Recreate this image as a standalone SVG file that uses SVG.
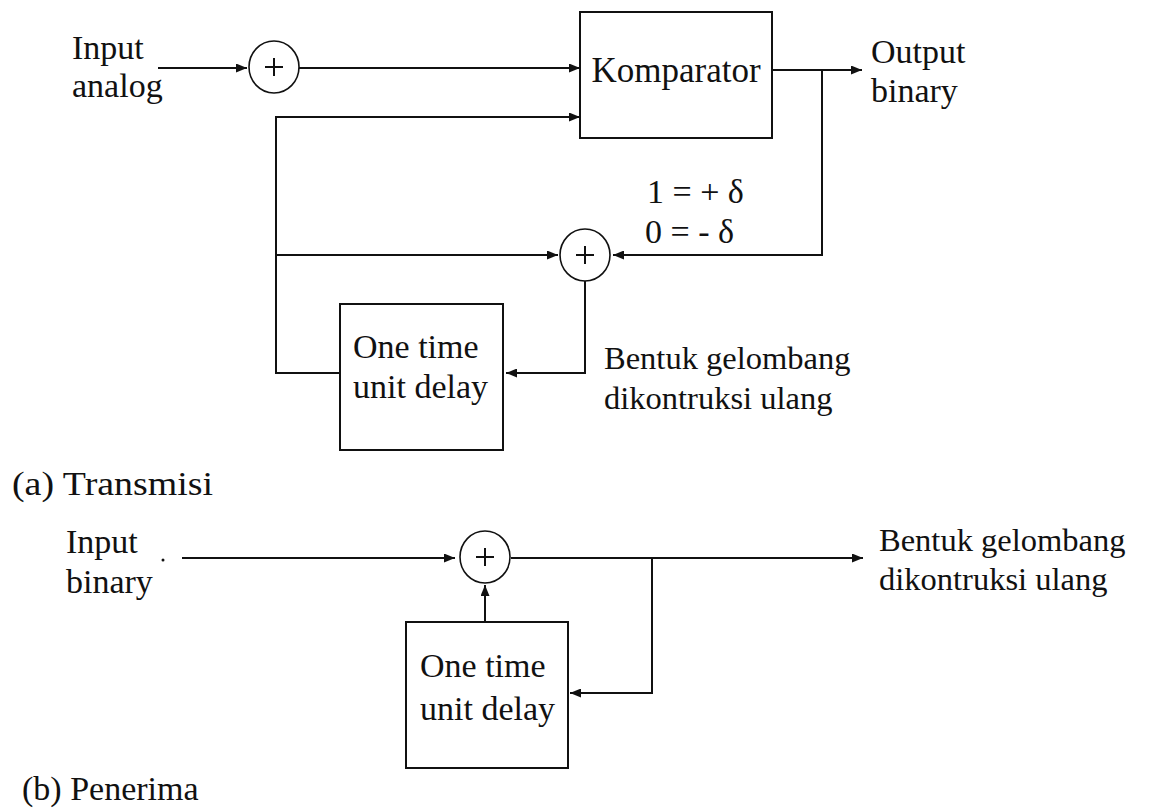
<svg xmlns="http://www.w3.org/2000/svg" width="1151" height="809" viewBox="0 0 1151 809">
<style>
text{font-family:'Liberation Serif','Tinos','DejaVu Serif',serif;font-size:34px;fill:#111}
.sm{font-size:32.5px}
.ln{stroke:#111;stroke-width:2;fill:none}
.box{stroke:#111;stroke-width:2;fill:#fff}
.sum{stroke:#111;stroke-width:1.6;fill:#fff}
.plus{stroke:#111;stroke-width:2}
</style>
<defs>
<marker id="arr" markerUnits="userSpaceOnUse" markerWidth="11" markerHeight="9" refX="11" refY="4.5" orient="auto">
<path d="M0,0 L11,4.5 L0,9 z" fill="#111"/>
</marker>
</defs>
<rect width="1151" height="809" fill="#fff"/>
<g id="connectors">
<path class="ln" d="M158,68 H247" marker-end="url(#arr)"/>
<path class="ln" d="M299,68 H580" marker-end="url(#arr)"/>
<path class="ln" d="M772,70 H862" marker-end="url(#arr)"/>
<path class="ln" d="M822,70 V255 H613" marker-end="url(#arr)"/>
<path class="ln" d="M340,373 H276 V117 H580" marker-end="url(#arr)"/>
<path class="ln" d="M276,255 H558" marker-end="url(#arr)"/>
<path class="ln" d="M585,281 V373 H506" marker-end="url(#arr)"/>
<path class="ln" d="M182,558 H455" marker-end="url(#arr)"/>
<path class="ln" d="M511,558 H863" marker-end="url(#arr)"/>
<path class="ln" d="M652,558 V693 H570" marker-end="url(#arr)"/>
<path class="ln" d="M485,622 V585" marker-end="url(#arr)"/>
</g>
<g id="input-analog">
<text x="72" y="59">Input</text>
<text x="72" y="97">analog</text>
</g>
<g id="sum1">
<ellipse class="sum" cx="274" cy="67" rx="25" ry="26"/>
<path class="plus" d="M265,67 H283 M274,58 V76"/>
</g>
<g id="komparator">
<rect class="box" x="580" y="12" width="192" height="126"/>
<text x="676" y="82" text-anchor="middle" style="font-size:35px">Komparator</text>
</g>
<g id="output-binary">
<text x="871" y="63">Output</text>
<text x="871" y="102">binary</text>
</g>
<g id="sum2">
<ellipse class="sum" cx="585" cy="255" rx="25" ry="26"/>
<path class="plus" d="M576,255 H594 M585,246 V264"/>
</g>
<g id="delta-label">
<text x="647" y="203">1 = + δ</text>
<text x="645" y="243">0 = - δ</text>
</g>
<g id="delay1">
<rect class="box" x="340" y="304" width="163" height="146"/>
<text x="353" y="358">One time</text>
<text x="353" y="398">unit delay</text>
</g>
<g id="reconstructed-a">
<text class="sm" x="604" y="369">Bentuk gelombang</text>
<text class="sm" x="604" y="409">dikontruksi ulang</text>
</g>
<g id="caption-a">
<text x="12" y="495" textLength="201" lengthAdjust="spacingAndGlyphs">(a) Transmisi</text>
</g>
<g id="input-binary">
<text x="66" y="553">Input</text>
<text x="66" y="593">binary</text>
<circle cx="163" cy="560" r="1.5" fill="#111"/>
</g>
<g id="sum3">
<ellipse class="sum" cx="485" cy="557" rx="25" ry="26"/>
<path class="plus" d="M476,557 H494 M485,548 V566"/>
</g>
<g id="delay2">
<rect class="box" x="406" y="622" width="162" height="146"/>
<text x="420" y="677">One time</text>
<text x="420" y="720">unit delay</text>
</g>
<g id="reconstructed-b">
<text class="sm" x="879" y="551">Bentuk gelombang</text>
<text class="sm" x="879" y="590">dikontruksi ulang</text>
</g>
<g id="caption-b">
<text x="22" y="800">(b) Penerima</text>
</g>
</svg>
